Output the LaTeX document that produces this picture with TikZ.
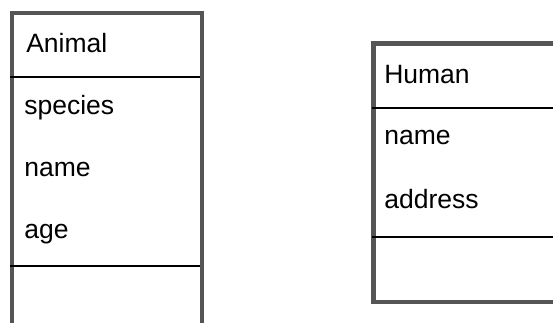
\documentclass[tikz,border=0pt]{standalone}
\usepackage{fontspec}
\setmainfont{Liberation Sans}
\begin{document}
\begin{tikzpicture}[x=1pt,y=-1pt,
  frame/.style={draw=frameGray,line width=4.6pt},
  divider/.style={draw=black,line width=2.3pt},
  lbl/.style={anchor=base west,inner sep=0pt,outer sep=0pt,font=\fontsize{26.5}{31}\selectfont}]
\definecolor{frameGray}{RGB}{85,85,85}
\useasboundingbox (0,0) rectangle (553,323);
\clip (0,0) rectangle (553,323);
% Animal class
\draw[frame] (12,13) rectangle (201.8,345);
\draw[divider] (10,76.8) -- (200,76.8);
\draw[divider] (10,265.7) -- (200,265.7);
\node[lbl] (aTitle) at (26.3,53) {Animal};
\node[lbl] (aSpecies) at (24.3,115) {species};
\node[lbl] (aName) at (24.3,176) {name};
\node[lbl] (aAge) at (24.3,238) {age};
% Human class
\draw[frame] (373.5,43.5) rectangle (575,301.8);
\draw[divider] (371.5,107.7) -- (560,107.7);
\draw[divider] (371.5,237.3) -- (560,237.3);
\node[lbl] (hTitle) at (384.3,83.3) {Human};
\node[lbl] (hName) at (384.3,145) {name};
\node[lbl] (hAddress) at (384.3,208.3) {address};
\end{tikzpicture}
\end{document}
